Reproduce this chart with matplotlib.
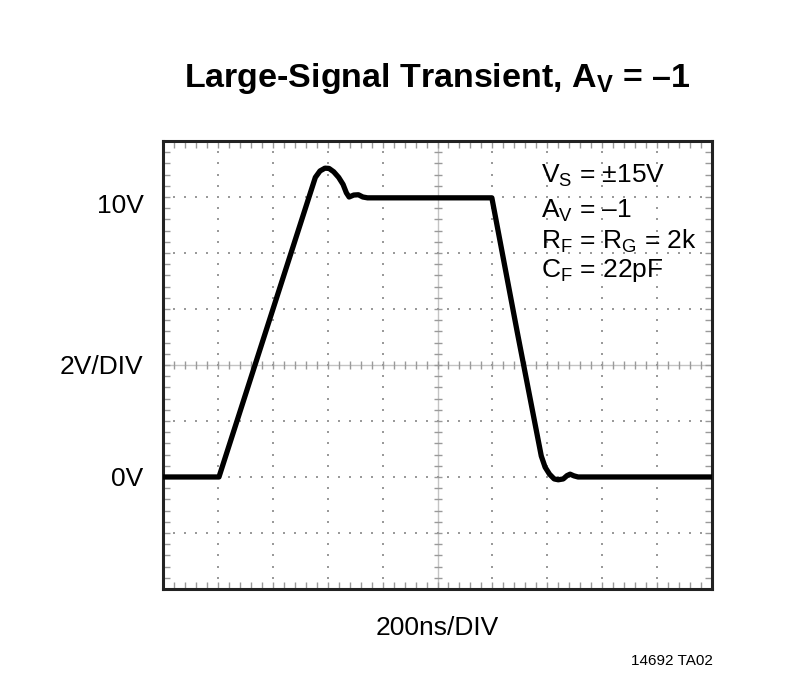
import matplotlib.pyplot as plt
import matplotlib.transforms as mtransforms
import numpy as np
from matplotlib.ticker import MultipleLocator

plt.rcParams['font.family'] = ['Liberation Sans', 'DejaVu Sans']
plt.rcParams['mathtext.fontset'] = 'custom'
plt.rcParams['mathtext.rm'] = 'Liberation Sans'
plt.rcParams['mathtext.bf'] = 'Liberation Sans:bold'

# waveform (time in ns, output in V)
t_ns = [0, 204, 555, 572, 590, 605, 622, 640, 656, 668, 678, 695, 712, 728, 745,
        1198, 1290, 1378, 1392, 1408, 1425, 1440, 1458, 1472, 1483, 1497, 1512, 2000]
v_out = [0, 0, 10.7, 10.93, 11.03, 11.02, 10.9, 10.7, 10.45, 10.15, 10.0, 10.07, 10.08, 10.0, 9.97,
         9.97, 5.2, 0.75, 0.35, 0.1, -0.07, -0.1, -0.07, 0.05, 0.1, 0.04, 0.0, 0.0]

y_ticks = [0, 4, 10]
y_labels = ['0V', '2V/DIV', '10V']
notes = [r'V$_\mathrm{S}$ = ±15V', r'A$_\mathrm{V}$ = –1',
         r'R$_\mathrm{F}$ = R$_\mathrm{G}$ = 2k', r'C$_\mathrm{F}$ = 22pF']
note_y = [10.5, 9.25, 8.17, 7.13]

fig = plt.figure(figsize=(7.9, 6.97), dpi=100)
ax = fig.add_axes([0.2063, 0.155, 0.695, 0.6427])
ax.set_xlim(0, 2000)
ax.set_ylim(-4, 12)

# scope graticule: dotted lines at each division
grid_c = '#9a9a9a'
xs_minor = np.arange(0, 2000.1, 40)
ys_minor = np.arange(-4, 12.01, 0.4)
for gx in range(200, 2000, 200):
    if gx == 1000:
        continue
    ax.plot([gx] * len(ys_minor), ys_minor, ls='none', marker='s', ms=1.6, color=grid_c, mew=0)
for gy in range(-2, 12, 2):
    if gy == 4:
        continue
    ax.plot(xs_minor, [gy] * len(xs_minor), ls='none', marker='s', ms=1.6, color=grid_c, mew=0)

# center cross with small ticks
ax.axvline(1000, color='#c4c4c4', lw=1.0, zorder=1)
ax.axhline(4, color='#c4c4c4', lw=1.0, zorder=1)
ax.plot([1000] * len(ys_minor), ys_minor, ls='none', marker='_', ms=6, mew=1.0, color=grid_c)
ax.plot(xs_minor, [4] * len(xs_minor), ls='none', marker='|', ms=6, mew=1.0, color=grid_c)

ax.plot(t_ns, v_out, color='black', lw=3.8, solid_joinstyle='round', zorder=5)

ax.xaxis.set_major_locator(MultipleLocator(200))
ax.xaxis.set_minor_locator(MultipleLocator(40))
ax.yaxis.set_minor_locator(MultipleLocator(0.4))
ax.set_yticks(y_ticks)
ax.set_yticklabels(y_labels)
ax.set_xticklabels([])
ax.tick_params(which='both', direction='in', top=True, right=True, color=grid_c,
               length=5, width=1.0)
ax.tick_params(axis='y', which='major', pad=14, labelsize=19)
# the 10V label sits a little below its line in the original
lbl = ax.get_yticklabels()[2]
lbl.set_transform(lbl.get_transform() + mtransforms.ScaledTranslation(0, -7 / 100, fig.dpi_scale_trans))
for s in ax.spines.values():
    s.set_linewidth(2.2)
    s.set_color('#222222')

for line, ny in zip(notes, note_y):
    ax.text(1377, ny, line, fontsize=19, va='baseline', ha='left', zorder=6)

fig.text(0.553, 0.875, r'Large-Signal Transient, A$_\mathbf{V}$ = –1', fontsize=24.5,
         fontweight='bold', ha='center', va='baseline')
fig.text(0.553, 0.099, '200ns/DIV', fontsize=19, ha='center', va='center')
fig.text(0.9025, 0.0516, '14692 TA02', fontsize=11, ha='right', va='center')

fig.savefig('out.png', dpi=100)
